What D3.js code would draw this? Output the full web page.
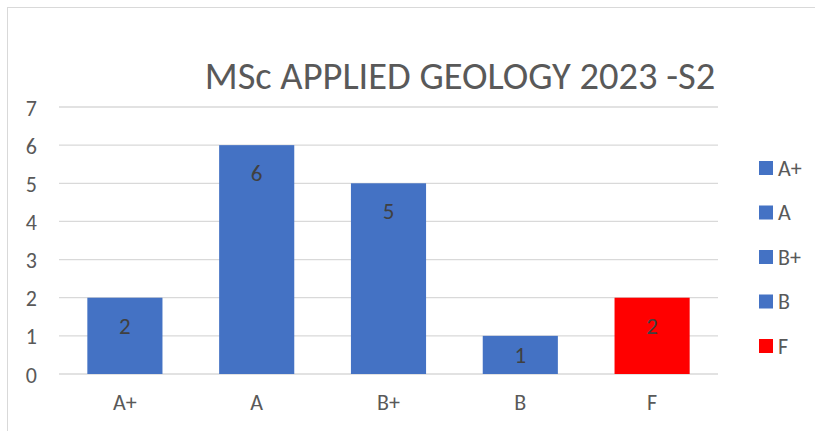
<!DOCTYPE html>
<html>
<head>
<meta charset="utf-8">
<script src="https://cdn.jsdelivr.net/npm/d3@7"></script>
<style>
  body { margin: 0; background: #fff; }
  text { font-family: Calibri, "Liberation Sans", Arial, sans-serif; }
</style>
</head>
<body>
<div id="chart"></div>
<script>
var grades = ["A+", "A", "B+", "B", "F"]
var counts = [2, 6, 5, 1, 2]
var barColors = ["#4472C4", "#4472C4", "#4472C4", "#4472C4", "#FF0000"]
var yTicks = [0, 1, 2, 3, 4, 5, 6, 7]
var title = "MSc APPLIED GEOLOGY 2023 -S2"

var svg = d3.select("#chart")
.append("svg")
.attr("width", 815)
.attr("height", 431)

// chart frame (runs off right/bottom edge)
svg.append("rect")
.attr("x", 7.5).attr("y", 7.5)
.attr("width", 900).attr("height", 500)
.attr("fill", "none").attr("stroke", "#d9d9d9")

var xScale = d3.scaleBand()
.domain(grades)
.range([59, 718])
.paddingInner(0.43)
.paddingOuter(0.215)

var yScale = d3.scaleLinear()
.domain([0, 7])
.range([374, 107])

// gridlines
svg.append("g").selectAll("line")
.data(yTicks)
.enter().append("line")
.attr("x1", 59).attr("x2", 718)
.attr("y1", function(d){ return yScale(d) })
.attr("y2", function(d){ return yScale(d) })
.attr("stroke", "#d9d9d9")
.attr("stroke-width", 1.3)

// y axis labels
var yAxis = d3.axisLeft(yScale).tickValues(yTicks).tickFormat(d3.format("d")).tickSize(0).tickPadding(0)
var gy = svg.append("g").attr("transform", "translate(37,1)").call(yAxis)
gy.select(".domain").remove()
gy.selectAll("text").attr("font-size", 22).attr("fill", "#595959")
.style("font-family", "Calibri, 'Liberation Sans', Arial, sans-serif")

// bars
svg.append("g").selectAll("rect")
.data(counts)
.enter().append("rect")
.attr("x", function(d, i){ return xScale(grades[i]) })
.attr("y", function(d){ return yScale(d) })
.attr("width", xScale.bandwidth())
.attr("height", function(d){ return yScale(0) - yScale(d) })
.attr("fill", function(d, i){ return barColors[i] })

// data labels, "inside end" style
svg.append("g").selectAll("text")
.data(counts)
.enter().append("text")
.text(function(d){ return d })
.attr("x", function(d, i){ return xScale(grades[i]) + xScale.bandwidth() / 2 })
.attr("y", function(d){ return Math.min(yScale(d) + 28, (yScale(d) + yScale(0)) / 2) })
.attr("dy", "0.35em")
.attr("text-anchor", "middle")
.attr("font-size", 23)
.attr("fill", "#404040")

// x axis labels
var xAxis = d3.axisBottom(xScale).tickSize(0).tickPadding(0)
var gx = svg.append("g").attr("transform", "translate(0,394)").call(xAxis)
gx.select(".domain").remove()
gx.selectAll("text").attr("font-size", 22).attr("fill", "#595959")
.style("font-family", "Calibri, 'Liberation Sans', Arial, sans-serif")

// title
svg.append("text")
.text(title)
.attr("x", 460)
.attr("y", 89)
.attr("text-anchor", "middle")
.attr("font-size", 38.5)
.attr("fill", "#595959")

// legend
var legend = svg.append("g").selectAll("g")
.data(grades)
.enter().append("g")
.attr("transform", function(d, i){ return "translate(759," + (168 + i * 44.5) + ")" })

legend.append("rect")
.attr("x", 0).attr("y", -7)
.attr("width", 14).attr("height", 14)
.attr("fill", function(d, i){ return barColors[i] })

legend.append("text")
.text(function(d){ return d })
.attr("x", 19)
.attr("y", 0)
.attr("dy", "0.35em")
.attr("font-size", 22)
.attr("fill", "#595959")
</script>
</body>
</html>
